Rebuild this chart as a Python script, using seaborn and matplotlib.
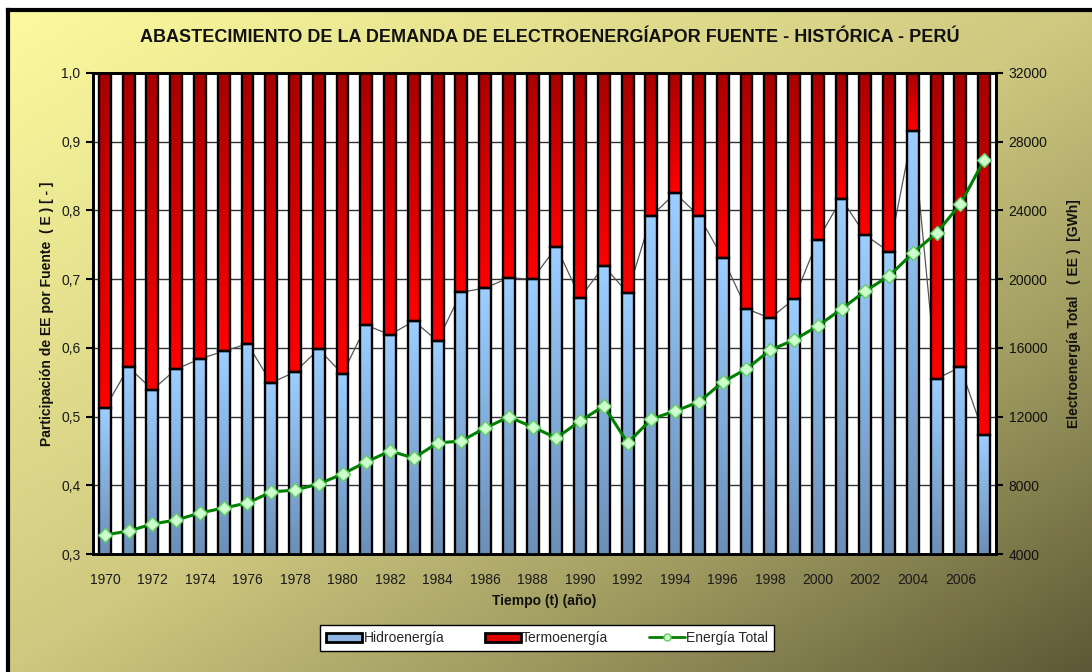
import numpy as np
import pandas as pd
import matplotlib
matplotlib.use("Agg")
import matplotlib.pyplot as plt
import seaborn as sns
from matplotlib import font_manager
from matplotlib.colors import LinearSegmentedColormap, to_rgb
from matplotlib.patches import Patch
from matplotlib.lines import Line2D

# ---------------- data ----------------
years = list(range(1970, 2008))
hidro = [0.512, 0.572, 0.539, 0.569, 0.584, 0.595, 0.606, 0.549, 0.565, 0.598,
         0.562, 0.633, 0.619, 0.639, 0.610, 0.681, 0.687, 0.702, 0.700, 0.747,
         0.673, 0.719, 0.680, 0.792, 0.825, 0.792, 0.731, 0.657, 0.643, 0.671,
         0.757, 0.817, 0.764, 0.740, 0.916, 0.555, 0.572, 0.473]
total = [5106, 5339, 5746, 5979, 6387, 6678, 6969, 7609, 7725, 8075,
         8657, 9356, 9996, 9588, 10462, 10578, 11335, 11975, 11393, 10753,
         11742, 12616, 10462, 11859, 12324, 12848, 14012, 14769, 15875, 16457,
         17272, 18262, 19310, 20183, 21522, 22686, 24374, 26936]
termo = [1.0 - h for h in hidro]
xtick_labels = [str(y) if (y - 1970) % 2 == 0 else "" for y in years]
left_ticks = [0.3, 0.4, 0.5, 0.6, 0.7, 0.8, 0.9, 1.0]
right_ticks = [4000, 8000, 12000, 16000, 20000, 24000, 28000, 32000]

title = "ABASTECIMIENTO DE LA DEMANDA DE ELECTROENERGÍAPOR FUENTE - HISTÓRICA - PERÚ"

df = pd.DataFrame({"Año": [str(y) for y in years], "Hidro": hidro,
                   "Termo": termo, "Total": total})
n = len(years)

# ---------------- fonts ----------------
names = {f.name for f in font_manager.fontManager.ttflist}
base_font = "Liberation Sans" if "Liberation Sans" in names else "DejaVu Sans"
narrow = "Liberation Sans Narrow" in names
title_font = "Liberation Sans Narrow" if narrow else base_font

sns.set_theme(style="white")
plt.rcParams["font.family"] = [base_font, "DejaVu Sans"]

W, H = 1092, 672
fig = plt.figure(figsize=(W / 100, H / 100), dpi=100)
fig.patch.set_facecolor("white")

# ---------------- background gradient ----------------
bg = fig.add_axes([8 / W, 0, 1 - 8 / W, (H - 10) / H], zorder=-10)
gx = np.linspace(0, 1, 400)
gy = np.linspace(0, 1, 250)
GX, GY = np.meshgrid(gx, gy)
T = (GX + GY) / 2
cmap_bg = LinearSegmentedColormap.from_list(
    "bg", [(0, "#FCFA9E"), (0.5, "#CEC880"), (0.72, "#A29E62"), (1.0, "#5E5836")])
bg.imshow(T, cmap=cmap_bg, aspect="auto", extent=(0, 1, 1, 0), vmin=0, vmax=1)
bg.set_xlim(0, 1); bg.set_ylim(1, 0)
bg.set_xticks([]); bg.set_yticks([])
for s in ["right", "bottom"]:
    bg.spines[s].set_visible(False)
for s in ["top", "left"]:
    bg.spines[s].set_color("black"); bg.spines[s].set_linewidth(3)

fig.text(550 / W, 1 - 38 / H, title, ha="center", va="center",
         fontsize=15 if narrow else 13, fontweight="bold",
         family=[title_font, "DejaVu Sans"], color="#111111")

# ---------------- main axes ----------------
ax = fig.add_axes([93 / W, 1 - 554 / H, (996 - 93) / W, (554 - 73) / H])
ax.set_facecolor("white")

sns.barplot(data=df, x="Año", y="Termo", color="#FF0000", width=0.5,
            edgecolor="black", linewidth=1.7, ax=ax, zorder=3)
red_patches = list(ax.patches)
sns.barplot(data=df, x="Año", y="Hidro", color="#99CCFF", width=0.5,
            edgecolor="black", linewidth=1.7, ax=ax, zorder=3)
blue_patches = [p for p in ax.patches if p not in red_patches]

# red segments sit on top of the hydro share
for p, h in zip(red_patches, hidro):
    p.set_y(h)

ax.set_xlim(-0.5, n - 0.5)
ax.set_ylim(0.3, 1.0)

def grad_fill(patch, top_col, bot_col, ymin):
    x0 = patch.get_x(); w = patch.get_width()
    y0 = max(patch.get_y(), ymin); y1 = patch.get_y() + patch.get_height()
    c0 = np.array(to_rgb(bot_col)); c1 = np.array(to_rgb(top_col))
    t = np.linspace(0, 1, 64)[:, None, None]
    img = c0 + (c1 - c0) * t
    img = np.repeat(img, 2, axis=1)
    im = ax.imshow(img, extent=(x0, x0 + w, y0, y1), origin="lower",
                   aspect="auto", zorder=2.9, interpolation="bilinear")
    im.set_clip_path(patch)
    patch.set_facecolor("none")

for p in red_patches:
    grad_fill(p, "#A80000", "#FF0000", 0.3)
for p in blue_patches:
    grad_fill(p, "#9CCEFF", "#6B8FB8", 0.3)

ax.set_xlim(-0.5, n - 0.5)
ax.set_ylim(0.3, 1.0)

# gray line joining hydro tops
sns.lineplot(x=np.arange(n), y=hidro, color="#555555", linewidth=0.9, ax=ax, zorder=1.5)

# gridlines
ax.set_yticks(left_ticks)
ax.set_yticklabels([f"{v:.1f}".replace(".", ",") for v in left_ticks])
ax.yaxis.grid(True, color="#333333", linewidth=1.0, zorder=0.5)
ax.set_axisbelow(True)

ax.set_xticks(np.arange(n))
ax.set_xticklabels(xtick_labels)
ax.set_xticks(np.arange(n + 1) - 0.5, minor=True)
ax.tick_params(axis="x", which="major", length=0, pad=14, labelsize=10, labelcolor="#1a1a1a")
ax.tick_params(axis="x", which="minor", length=5, width=1.5, color="black", direction="out")
ax.tick_params(axis="y", which="major", left=True, length=5, width=1.5, color="black",
               direction="out", labelsize=10, labelcolor="#1a1a1a", pad=4)
for s in ax.spines.values():
    s.set_color("black"); s.set_linewidth(2)

ax.set_xlabel("Tiempo (t) (año)", fontsize=10, fontweight="bold", color="#111111", labelpad=5)
ax.set_ylabel("Participación de EE por Fuente  ( E ) [ - ]", fontsize=10,
              fontweight="bold", color="#111111", labelpad=5)

# ---------------- twin axis ----------------
ax2 = ax.twinx()
sns.lineplot(x=np.arange(n), y=total, color="#008000", linewidth=2.2, marker="D",
             markersize=7, markerfacecolor="#CCFFCC", markeredgecolor="#66CC66",
             markeredgewidth=1, ax=ax2, zorder=5)
ax2.set_ylim(4000, 32000)
ax2.set_yticks(right_ticks)
ax2.set_yticklabels([str(v) for v in right_ticks])
ax2.tick_params(axis="y", right=True, length=5, width=1.5, color="black", direction="out",
                labelsize=10, labelcolor="#111111", pad=4)
ax2.grid(False)
for s in ax2.spines.values():
    s.set_color("black"); s.set_linewidth(2)
ax2.set_ylabel("Electroenergía Total   ( EE )  [GWh]", fontsize=10, fontweight="bold",
               color="#111111", labelpad=14)

# ---------------- legend ----------------
handles = [
    Patch(facecolor="#8DB4E2", edgecolor="black", linewidth=2),
    Patch(facecolor="#E00000", edgecolor="black", linewidth=2),
    Line2D([0], [0], color="#008000", linewidth=2, marker="o", markersize=5,
           markerfacecolor="#CCFFCC", markeredgecolor="#66CC66"),
]
labels = ["Hidroenergía", "Termoenergía", "Energía Total"]
leg = fig.legend(handles, labels, loc="center", bbox_to_anchor=(547 / W, 1 - 638 / H),
                 ncol=3, frameon=True, fancybox=False, fontsize=10, handlelength=2.6,
                 handleheight=0.6, handletextpad=0.1, columnspacing=2.9,
                 borderpad=0.45)
leg.get_frame().set_edgecolor("black")
leg.get_frame().set_linewidth(1)
leg.get_frame().set_facecolor("white")
leg.get_frame().set_alpha(1)

fig.savefig("out.png", dpi=100, facecolor=fig.get_facecolor())
